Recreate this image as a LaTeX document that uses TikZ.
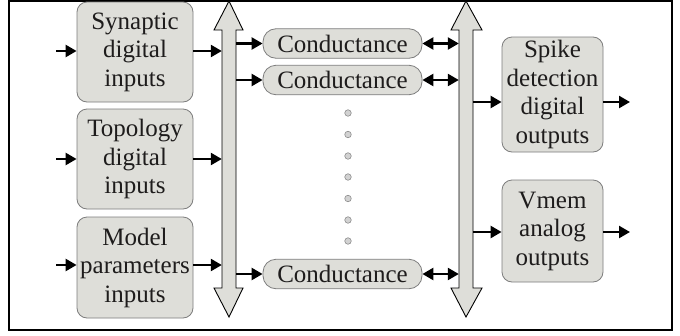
\documentclass[tikz,border=0pt]{standalone}
\usepackage{fontspec}
\setmainfont{Liberation Serif}
\usetikzlibrary{arrows.meta}
\definecolor{boxfill}{RGB}{222,222,217}
\definecolor{boxline}{RGB}{125,125,125}
\definecolor{dotfill}{RGB}{210,210,210}
\definecolor{dotline}{RGB}{140,140,140}
\definecolor{txt}{RGB}{30,28,28}
\begin{document}
\begin{tikzpicture}[x=1pt,y=-1pt,
  blockbox/.style={draw=boxline, fill=boxfill, line width=0.8pt, rounded corners=10pt,
    align=center, inner sep=0pt, text=txt, font=\fontsize{25}{28.5}\selectfont},
  condbox/.style={draw=boxline, fill=boxfill, line width=0.8pt, rounded corners=13pt,
    inner sep=0pt, minimum width=159pt, minimum height=29.5pt, text=txt, font=\fontsize{25}{28.5}\selectfont},
  arr/.style={line width=2.4pt, -{Triangle[length=11pt,width=12pt]}},
  darr/.style={line width=2.4pt, {Triangle[length=11pt,width=12pt]}-{Triangle[length=11pt,width=12pt]}},
  busshape/.style={draw=black, fill=boxfill, line width=0.9pt, line join=miter},
  dotc/.style={circle, draw=dotline, fill=dotfill, line width=0.6pt, minimum size=6.5pt, inner sep=0pt}
]
\useasboundingbox (0,0) rectangle (680,335);
\fill[white] (0,0) rectangle (680,335);
\draw[line width=2pt] (9,1) rectangle (672,330);

% buses
\draw[busshape] (222,30)--(214,30)--(229,1)--(243,30)--(236,30)--(236,288)--(243,288)--(229,317)--(214,288)--(222,288)--cycle;
\draw[busshape] (459,30)--(451,30)--(466,1)--(482,30)--(473,30)--(473,288)--(482,288)--(466,317)--(451,288)--(459,288)--cycle;
\node[minimum width=14pt, minimum height=258pt, inner sep=0pt] (busL) at (229,159) {};
\node[minimum width=14pt, minimum height=258pt, inner sep=0pt] (busR) at (466,159) {};

% left blocks
\node[blockbox, minimum width=116pt, minimum height=100pt] (syn) at (135,52) {Synaptic\\digital\\inputs};
\node[blockbox, minimum width=116pt, minimum height=100pt] (top) at (135,159) {Topology\\digital\\inputs};
\node[blockbox, minimum width=116pt, minimum height=101pt] (mod) at (135,267.5) {Model\\parameters\\inputs};

\coordinate (inS) at (56,51);
\coordinate (inT) at (56,159);
\coordinate (inM) at (56,265);
\draw[arr] (inS) -- (inS -| syn.west);
\draw[arr] (inT) -- (inT -| top.west);
\draw[arr] (inM) -- (inM -| mod.west);
\draw[arr] (inS -| syn.east) -- (inS -| busL.west);
\draw[arr] (inT -| top.east) -- (inT -| busL.west);
\draw[arr] (inM -| mod.east) -- (inM -| busL.west);

% conductances
\node[condbox] (c1) at (342.5,43.5) {Conductance};
\node[condbox] (c2) at (342.5,80) {Conductance};
\node[condbox] (c3) at (342.5,274) {Conductance};
\foreach \c in {c1,c2,c3}{
  \draw[arr] (\c.west -| busL.east) -- (\c.west);
  \draw[darr] (\c.east) -- (\c.east -| busR.west);
}

% dots
\foreach \i/\yy in {1/113,2/134.5,3/156,4/177,5/198.5,6/220,7/241}{
  \node[dotc] (d\i) at (348,\yy) {};
}

% right blocks
\node[blockbox, minimum width=101pt, minimum height=115pt] (spk) at (552.5,94.5) {Spike\\detection\\digital\\outputs};
\node[blockbox, minimum width=101pt, minimum height=102pt] (vm) at (552.5,231) {Vmem\\analog\\outputs};
\coordinate (outS) at (630,102);
\coordinate (outV) at (630,232);
\draw[arr] (outS -| busR.east) -- (outS -| spk.west);
\draw[arr] (outV -| busR.east) -- (outV -| vm.west);
\draw[arr] (outS -| spk.east) -- (outS);
\draw[arr] (outV -| vm.east) -- (outV);
\end{tikzpicture}
\end{document}
